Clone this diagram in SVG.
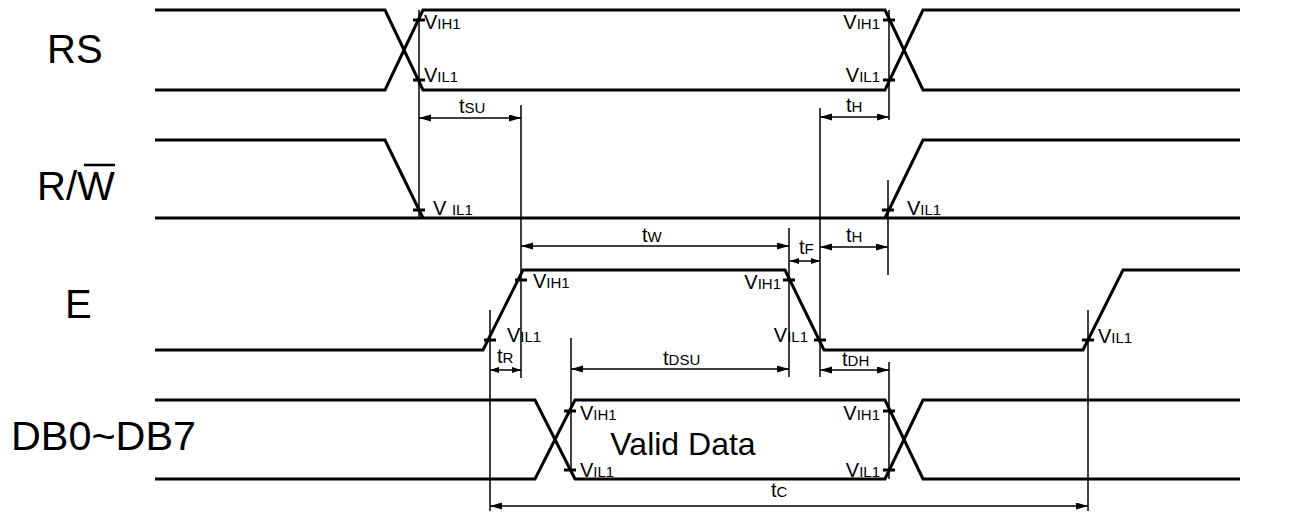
<svg xmlns="http://www.w3.org/2000/svg" width="1305" height="512" viewBox="0 0 1305 512">
<style>
.sig{fill:none;stroke:#000;stroke-width:3;stroke-linejoin:miter}
.dim{fill:none;stroke:#000;stroke-width:1.5}
.tick{stroke:#000;stroke-width:3}
.arr{fill:none;stroke:#000;stroke-width:1.5;marker-start:url(#ah);marker-end:url(#ah)}
.arrs{fill:none;stroke:#000;stroke-width:1.5;marker-start:url(#as);marker-end:url(#as)}
text{font-family:"Liberation Sans",Arial,sans-serif;fill:#000}
.big{font-size:40px}
.v{font-size:20px}
.s{font-size:15px}
.vd{font-size:32px}
</style>
<defs>
<marker id="ah" markerUnits="userSpaceOnUse" markerWidth="13" markerHeight="8" refX="12" refY="3.5" orient="auto-start-reverse"><path d="M0,0 L12,3.5 L0,7 z" fill="#000"/></marker>
<marker id="as" markerUnits="userSpaceOnUse" markerWidth="10" markerHeight="7" refX="9" refY="3" orient="auto-start-reverse"><path d="M0,0 L9,3 L0,6 z" fill="#000"/></marker>
</defs>
<rect width="1305" height="512" fill="#fff"/>

<g id="labels">
<text class="big" x="47" y="63">RS</text>
<text class="big" x="37" y="200">R/W</text>
<line x1="84" y1="165" x2="115" y2="165" stroke="#000" stroke-width="2.5"/>
<text class="big" x="65" y="318">E</text>
<text class="big" x="11" y="450" textLength="185" lengthAdjust="spacingAndGlyphs">DB0~DB7</text>
</g>

<g id="signal-RS">
<path class="sig" d="M155,10 H385 L423,90 H885 L923,10 H1240"/>
<path class="sig" d="M155,90 H385 L423,10 H885 L923,90 H1240"/>
</g>
<g id="signal-RW">
<path class="sig" d="M155,140 H385 L423,218"/>
<path class="sig" d="M155,218 H1240"/>
<path class="sig" d="M885,218 L923,140 H1240"/>
</g>
<g id="signal-E">
<path class="sig" d="M155,350 H483 L523,270 H785 L824,350 H1083 L1123,270 H1240"/>
</g>
<g id="signal-DB">
<path class="sig" d="M155,400 H535 L575,479 H885 L923,400 H1240"/>
<path class="sig" d="M155,479 H535 L575,400 H885 L923,479 H1240"/>
<text class="vd" x="683" y="455" text-anchor="middle">Valid Data</text>
</g>

<g id="connectors">
<line class="dim" x1="419" y1="10" x2="419" y2="218"/>
<line class="dim" x1="521" y1="105" x2="521" y2="378"/>
<line class="dim" x1="889" y1="10" x2="889" y2="120"/>
<line class="dim" x1="888" y1="180" x2="888" y2="275"/>
<line class="dim" x1="889" y1="362" x2="889" y2="479"/>
<line class="dim" x1="820" y1="108" x2="820" y2="377"/>
<line class="dim" x1="789" y1="228" x2="789" y2="377"/>
<line class="dim" x1="490" y1="310" x2="490" y2="511"/>
<line class="dim" x1="571" y1="338" x2="571" y2="470"/>
<line class="dim" x1="1088" y1="310" x2="1088" y2="511"/>

<line class="arr" x1="419" y1="118" x2="521" y2="118"/>
<line class="arr" x1="820" y1="117" x2="889" y2="117"/>
<line class="arr" x1="521" y1="246" x2="789" y2="246"/>
<line class="arrs" x1="790" y1="261" x2="820" y2="261"/>
<line class="arr" x1="820" y1="247" x2="888" y2="247"/>
<line class="arrs" x1="490" y1="370" x2="521" y2="370"/>
<line class="arr" x1="571" y1="369" x2="789" y2="369"/>
<line class="arr" x1="820" y1="370" x2="889" y2="370"/>
<line class="arr" x1="490" y1="506" x2="1088" y2="506"/>

<g class="tick">
<line x1="413" y1="20" x2="425" y2="20"/>
<line x1="413" y1="80" x2="425" y2="80"/>
<line x1="883" y1="20" x2="895" y2="20"/>
<line x1="883" y1="80" x2="895" y2="80"/>
<line x1="413" y1="210" x2="425" y2="210"/>
<line x1="882" y1="210" x2="894" y2="210"/>
<line x1="515" y1="280" x2="527" y2="280"/>
<line x1="484" y1="340" x2="496" y2="340"/>
<line x1="783" y1="280" x2="795" y2="280"/>
<line x1="814" y1="340" x2="826" y2="340"/>
<line x1="1082" y1="340" x2="1094" y2="340"/>
<line x1="564" y1="411" x2="576" y2="411"/>
<line x1="564" y1="470" x2="576" y2="470"/>
<line x1="883" y1="411" x2="895" y2="411"/>
<line x1="883" y1="470" x2="895" y2="470"/>
</g>
</g>

<g id="level-labels">
<text class="v" x="424" y="29">V<tspan class="s">IH1</tspan></text>
<text class="v" x="424" y="82">V<tspan class="s">IL1</tspan></text>
<text class="v" x="880" y="29" text-anchor="end">V<tspan class="s">IH1</tspan></text>
<text class="v" x="880" y="82" text-anchor="end">V<tspan class="s">IL1</tspan></text>
<text class="v" x="433" y="215">V <tspan class="s">IL1</tspan></text>
<text class="v" x="907" y="215">V<tspan class="s">IL1</tspan></text>
<text class="v" x="533" y="288">V<tspan class="s">IH1</tspan></text>
<text class="v" x="507" y="342">V<tspan class="s">IL1</tspan></text>
<text class="v" x="781" y="289" text-anchor="end">V<tspan class="s">IH1</tspan></text>
<text class="v" x="808" y="342" text-anchor="end">V<tspan class="s">IL1</tspan></text>
<text class="v" x="1098" y="343">V<tspan class="s">IL1</tspan></text>
<text class="v" x="580" y="420">V<tspan class="s">IH1</tspan></text>
<text class="v" x="580" y="477">V<tspan class="s">IL1</tspan></text>
<text class="v" x="880" y="420" text-anchor="end">V<tspan class="s">IH1</tspan></text>
<text class="v" x="880" y="477" text-anchor="end">V<tspan class="s">IL1</tspan></text>
</g>

<g id="timing-labels">
<text class="v" x="459" y="113">t<tspan class="s">SU</tspan></text>
<text class="v" x="846" y="112">t<tspan class="s">H</tspan></text>
<text class="v" x="642" y="242">t<tspan class="s">W</tspan></text>
<text class="v" x="799" y="254">t<tspan class="s">F</tspan></text>
<text class="v" x="846" y="242">t<tspan class="s">H</tspan></text>
<text class="v" x="497" y="363">t<tspan class="s">R</tspan></text>
<text class="v" x="663" y="365">t<tspan class="s">DSU</tspan></text>
<text class="v" x="842" y="366">t<tspan class="s">DH</tspan></text>
<text class="v" x="771" y="497">t<tspan class="s">C</tspan></text>
</g>
</svg>
